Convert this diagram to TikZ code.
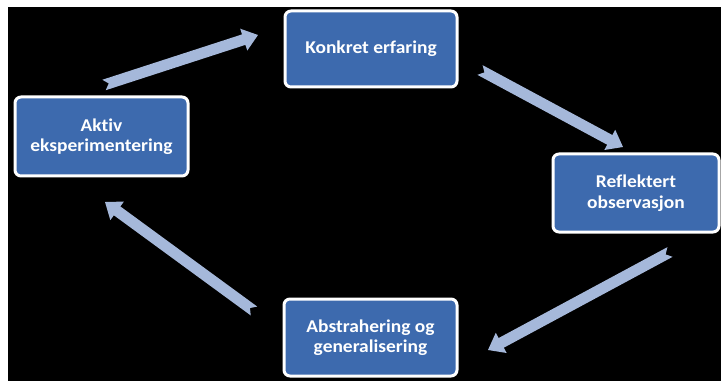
\documentclass[tikz,border=0pt]{standalone}
\usepackage{fontspec}
\setmainfont{Carlito}[Ligatures=NoCommon, FakeStretch=1.08]
\usetikzlibrary{calc}
\definecolor{boxblue}{HTML}{3D6AAE}
\definecolor{arrowblue}{HTML}{A5B8DA}
\tikzset{
  cyclebox/.style={draw=white, line width=3pt, fill=boxblue, rounded corners=6pt,
    text=white, font=\bfseries\fontsize{18}{20.5}\selectfont, align=center,
    inner sep=0pt, anchor=center},
}
\newcommand\blockarrow[2]{%
  \path let \p1=($(#2)-(#1)$), \n1={atan2(\y1,\x1)}, \n2={veclen(\x1,\y1)} in
    \pgfextra{\xdef\arrang{\n1}\xdef\arrlen{\n2}};
  \begin{scope}[shift={(#1)}, rotate=\arrang]
    \fill[arrowblue] (0pt,5.5pt) -- (\arrlen-15pt,5.5pt) -- (\arrlen-15pt,11.5pt)
      -- (\arrlen,0pt) -- (\arrlen-15pt,-11.5pt) -- (\arrlen-15pt,-5.5pt)
      -- (0pt,-5.5pt) -- (5pt,0pt) -- cycle;
  \end{scope}}
\begin{document}
\begin{tikzpicture}[x=1pt,y=1pt]
  \useasboundingbox (0,0) rectangle (721,381);
  \fill[white] (0,0) rectangle (721,381);
  \fill[black] (8,0) rectangle (721,374);
  % boxes (y = 381 - image y)
  \node[cyclebox, minimum width=172pt, minimum height=76pt] (konkret) at (371,332) {Konkret erfaring};
  \node[cyclebox, minimum width=173pt, minimum height=79pt] (aktiv) at (101.5,244.5) {Aktiv\\eksperimentering};
  \node[cyclebox, minimum width=166pt, minimum height=78pt] (refl) at (636,188) {Reflektert\\observasjon};
  \node[cyclebox, minimum width=173pt, minimum height=77pt] (abstr) at (370.5,43.5) {Abstrahering og\\generalisering};
  % arrow end points
  \coordinate (a1s) at (104,296);
  \coordinate (a1e) at (258,346);
  \coordinate (a2s) at (480,311);
  \coordinate (a2e) at (623,234);
  \coordinate (a3s) at (670,129);
  \coordinate (a3e) at (488,31);
  \coordinate (a4s) at (254,70);
  \coordinate (a4e) at (105,179);
  \blockarrow{a1s}{a1e}
  \blockarrow{a2s}{a2e}
  \blockarrow{a3s}{a3e}
  \blockarrow{a4s}{a4e}
\end{tikzpicture}
\end{document}
